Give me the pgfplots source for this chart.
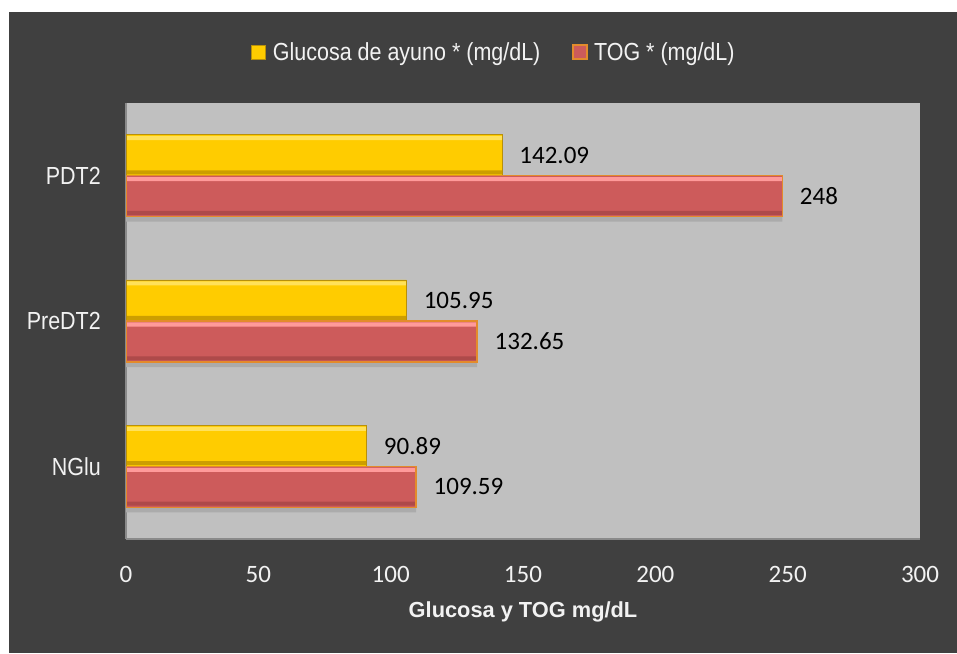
\documentclass[border=0pt]{standalone}
\usepackage{pgfplots}
\usepackage{pgfplotstable}
\pgfplotsset{compat=1.18}
\usepackage{fontspec}
\setmainfont{Liberation Sans}
\newfontfamily\narrow[FakeStretch=0.87]{Liberation Sans}
\newfontfamily\carlito{Carlito}

\definecolor{bgdark}{HTML}{404040}
\definecolor{wall}{HTML}{C0C0C0}
\definecolor{shadow}{HTML}{ABABAB}
\definecolor{axisgray}{HTML}{8A8A8A}
\definecolor{txt}{HTML}{F2F2F2}
% yellow bar tones
\definecolor{ylight}{HTML}{FFE15A}
\definecolor{ymain}{HTML}{FFCC00}
\definecolor{ydark}{HTML}{CC9E00}
\definecolor{yborder}{HTML}{B8900A}
% red bar tones
\definecolor{rlight}{HTML}{FF9A9A}
\definecolor{rmain}{HTML}{CD5B5B}
\definecolor{rdark}{HTML}{AE4A4A}
\definecolor{rborder}{HTML}{E38B2C}

\pgfplotstableread{
c v
0 90.89
1 105.95
2 142.09
}\ayuno
\pgfplotstableread{
c v
0 109.59
1 132.65
2 248
}\tog

\begin{document}
\begin{tikzpicture}
\fill[white] (0,0) rectangle (957pt,653pt);
\fill[bgdark] (9pt,0) rectangle (957pt,641pt);
\begin{axis}[
  at={(126pt,114pt)}, anchor=south west,
  width=794pt, height=436pt, scale only axis,
  xbar, bar width=41pt,
  xmin=0, xmax=300, ymin=-0.5, ymax=2.5,
  xtick={0,50,...,300},
  ytick={0,1,2}, yticklabels={NGlu,PreDT2,PDT2},
  major tick length=0pt,
  axis background/.style={fill=wall},
  axis lines*=left,
  axis line style={draw=axisgray, line width=1.5pt, -},
  /pgf/number format/assume math mode=true,
  xticklabel style={font=\carlito\fontsize{25}{30}\selectfont, text=txt, anchor=center, yshift=-35pt},
  yticklabel style={font=\narrow\fontsize{24.7}{28}\selectfont, text=txt, anchor=east, inner sep=0pt, xshift=-25pt},
  xlabel={\bfseries Glucosa y TOG mg/dL},
  xlabel style={font=\fontsize{21.8}{26}\selectfont, text=txt, at={(axis description cs:0.5,-0.1674)}, anchor=center},
  point meta=x,
  value label/.style={
    nodes near coords={\pgfmathprintnumber[fixed,precision=2]{\pgfplotspointmeta}},
    every node near coord/.append style={font=\carlito\fontsize{25}{30}\selectfont, text=black, anchor=west, inner sep=2pt, xshift=15pt}},
  band/.style={draw=none, bar width=4pt, forget plot},
  outline/.style={fill=none, forget plot},
  legend columns=2,
  legend style={font=\narrow\fontsize{24.7}{28}\selectfont, text=txt, draw=none, fill=none,
    at={(0.4635,1.117)}, anchor=center,
    /tikz/every even column/.append style={column sep=30pt}},
  legend image code/.code={\path[#1] (0pt,-7pt) rectangle (14pt,7pt); \path[draw=none, fill=none] (0pt,0pt) -- (19pt,0pt);},
]
% soft shadow beneath the lower bars
\addplot[band, fill=shadow, bar width=5pt, bar shift=-43.5pt] table[x=v, y=c] {\tog};
% main bars
\addplot[bar shift=20.5pt, fill=ymain, draw=yborder, line width=0.8pt, value label] table[x=v, y=c] {\ayuno};
\addplot[bar shift=-20.5pt, fill=rmain, draw=rborder, line width=1.2pt, value label] table[x=v, y=c] {\tog};
\legend{Glucosa de ayuno * (mg/dL), TOG * (mg/dL)}
% bevel bands: light along the top edge, dark along the bottom edge
\addplot[band, fill=ylight, bar shift=37.5pt] table[x=v, y=c] {\ayuno};
\addplot[band, fill=ydark, bar shift=3.2pt] table[x=v, y=c] {\ayuno};
\addplot[band, fill=rlight, bar shift=-3.5pt] table[x=v, y=c] {\tog};
\addplot[band, fill=rdark, bar shift=-37.3pt] table[x=v, y=c] {\tog};
% bar outlines drawn again on top of the bands
\addplot[outline, bar shift=20.5pt, draw=yborder, line width=0.8pt] table[x=v, y=c] {\ayuno};
\addplot[outline, bar shift=-20.5pt, draw=rborder, line width=1.2pt] table[x=v, y=c] {\tog};
\end{axis}
\end{tikzpicture}
\end{document}
